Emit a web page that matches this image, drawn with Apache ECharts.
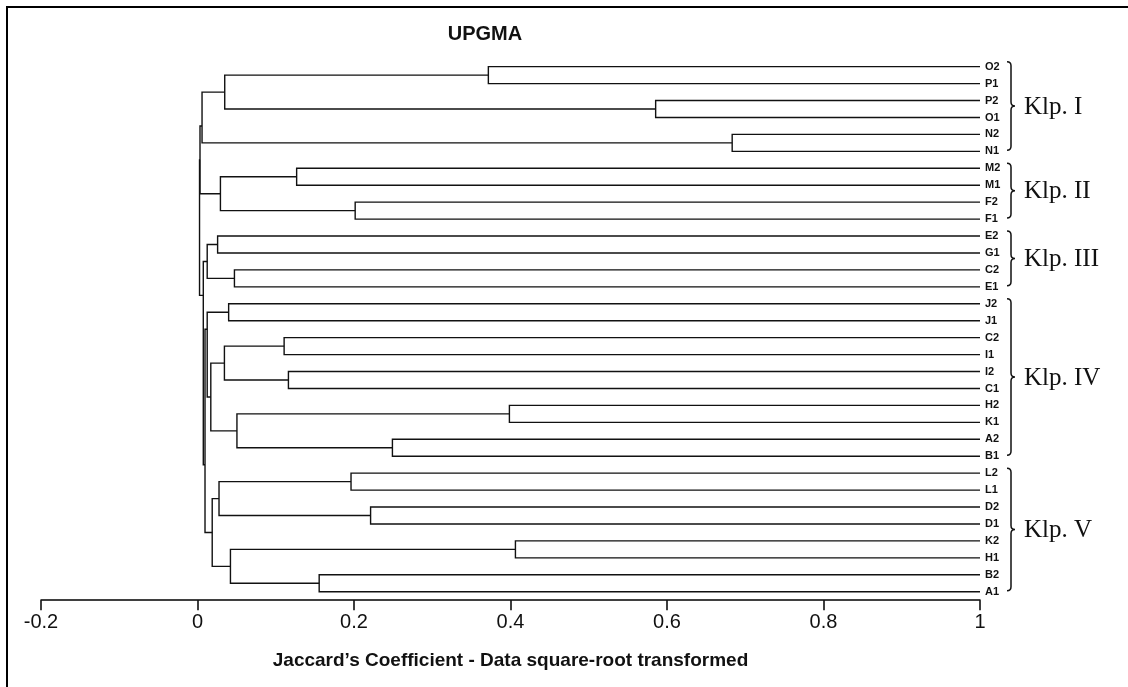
<!DOCTYPE html>
<html>
<head>
<meta charset="utf-8">
<script src="https://cdn.jsdelivr.net/npm/echarts@6/dist/echarts.min.js"></script>
<style>
  html, body { margin: 0; padding: 0; background: #fff; }
  #chart { width: 1128px; height: 687px; }
</style>
</head>
<body>
<div id="chart"></div>
<script>
// ---------- DATA ----------
const chartTitle = 'UPGMA';
const axisTitle = 'Jaccard\u2019s Coefficient - Data square-root transformed';
const tickLabels = ['-0.2', '0', '0.2', '0.4', '0.6', '0.8', '1'];

// leaves, top to bottom
const leafLabels = ['O2','P1','P2','O1','N2','N1','M2','M1','F2','F1','E2','G1','C2','E1',
  'J2','J1','C2','I1','I2','C1','H2','K1','A2','B1','L2','L1','D2','D1','K2','H1','B2','A1'];
const leafHeight = 1;

// merges: children refer to leaf index (0..31) or merge (32 + merge index)
const mergeLeft  = [0, 2, 4, 32, 35, 6, 8, 37, 10, 12, 40, 14, 16, 18, 44, 20, 22, 47, 46, 43, 24, 26, 52, 28, 30, 55, 54, 51, 42, 36, 61];
const mergeRight = [1, 3, 5, 33, 34, 7, 9, 38, 11, 13, 41, 15, 17, 19, 45, 21, 23, 48, 49, 50, 25, 27, 53, 29, 31, 56, 57, 58, 59, 39, 60];
const mergeHeight = [0.3717, 0.5855, 0.6833, 0.0348, 0.0058, 0.1267, 0.2015, 0.0293, 0.0257, 0.0472, 0.0124,
  0.0398, 0.1107, 0.1162, 0.0344, 0.3986, 0.2491, 0.0504, 0.0170, 0.0124,
  0.1962, 0.2212, 0.0275, 0.4063, 0.1555, 0.0421, 0.0188, 0.0096, 0.0074, 0.0032, 0.0026];

// cluster groups (first leaf, last leaf, label)
const groupStart = [0, 6, 10, 14, 24];
const groupEnd   = [5, 9, 13, 23, 31];
const groupNames = ['Klp. I', 'Klp. II', 'Klp. III', 'Klp. IV', 'Klp. V'];

// ---------- TREE GEOMETRY (from data) ----------
// a node links to its parent at the boundary between its two child clusters
const nLeaf = leafLabels.length;
const nodeX = [], nodeY = [], nodeLo = [], nodeHi = [];
for (let i = 0; i < nLeaf; i++) { nodeX.push(leafHeight); nodeY.push(i); nodeLo.push(i); nodeHi.push(i); }
const linkData = [];
for (let k = 0; k < mergeLeft.length; k++) {
  const a = mergeLeft[k], b = mergeRight[k], h = mergeHeight[k];
  linkData.push([h, nodeY[a], nodeY[b], nodeX[a], nodeX[b]]);
  nodeX.push(h);
  nodeY.push((nodeHi[a] + nodeLo[b]) / 2);
  nodeLo.push(nodeLo[a]);
  nodeHi.push(nodeHi[b]);
}
const groupData = groupStart.map((s, i) => [s, groupEnd[i]]);

// ---------- CHART ----------
const chart = echarts.init(document.getElementById('chart'));
const font = '"Liberation Sans", Arial, sans-serif';
chart.setOption({
  animation: false,
  backgroundColor: '#fff',
  title: {
    text: chartTitle,
    left: 480, top: 19, textAlign: 'center',
    textStyle: { fontFamily: font, fontWeight: 'bold', fontSize: 20, color: '#111' }
  },
  graphic: [{
    type: 'rect', silent: true,
    shape: { x: 7, y: 7, width: 1200, height: 800 },
    style: { fill: 'none', stroke: '#000', lineWidth: 2 }
  }],
  grid: { left: 41, right: 148, top: 58.2, bottom: 86.8, containLabel: false },
  xAxis: {
    type: 'value', min: -0.2, max: 1, interval: 0.2, position: 'bottom',
    name: axisTitle, nameLocation: 'middle', nameGap: 51,
    nameTextStyle: { fontFamily: font, fontWeight: 'bold', fontSize: 19, color: '#111' },
    axisLine: { show: true, onZero: false, lineStyle: { color: '#000', width: 1.5 } },
    axisTick: { show: true, length: 10, lineStyle: { color: '#000', width: 1.5 } },
    axisLabel: {
      margin: 12, fontFamily: font, fontSize: 20, color: '#111',
      formatter: v => tickLabels[Math.round((v + 0.2) / 0.2)]
    },
    splitLine: { show: false }
  },
  yAxis: [{
    type: 'value', min: -0.5, max: 31.5, inverse: true, show: false
  }, {
    type: 'category', data: leafLabels, inverse: true, position: 'right',
    axisLine: { show: false }, axisTick: { show: false },
    axisLabel: { margin: 5, fontFamily: font, fontWeight: 'bold', fontSize: 11, color: '#111' }
  }],
  series: [{
    type: 'custom', coordinateSystem: 'cartesian2d', xAxisIndex: 0, yAxisIndex: 0,
    clip: false, silent: true,
    data: linkData,
    renderItem: (params, api) => {
      const h = api.value(0), ya = api.value(1), yb = api.value(2), xa = api.value(3), xb = api.value(4);
      const p1 = api.coord([xa, ya]), p2 = api.coord([h, ya]), p3 = api.coord([h, yb]), p4 = api.coord([xb, yb]);
      return {
        type: 'polyline',
        shape: { points: [p1, p2, p3, p4] },
        style: { stroke: '#111', lineWidth: 1.4, fill: null }
      };
    }
  }, {
    type: 'custom', coordinateSystem: 'cartesian2d', xAxisIndex: 0, yAxisIndex: 0,
    clip: false, silent: true,
    data: groupData,
    renderItem: (params, api) => {
      const s = api.value(0), e = api.value(1);
      const name = groupNames[params.dataIndex];
      const top = api.coord([leafHeight, s]);
      const bot = api.coord([leafHeight, e]);
      const x0 = top[0] + 27;
      const y0 = top[1] - 5, y1 = bot[1] - 1;
      const ym = (y0 + y1) / 2;
      const r = 4;
      const path = 'M' + x0 + ',' + y0 +
        ' Q' + (x0 + r) + ',' + y0 + ' ' + (x0 + r) + ',' + (y0 + r) +
        ' L' + (x0 + r) + ',' + (ym - r) +
        ' Q' + (x0 + r) + ',' + ym + ' ' + (x0 + 2 * r) + ',' + ym +
        ' Q' + (x0 + r) + ',' + ym + ' ' + (x0 + r) + ',' + (ym + r) +
        ' L' + (x0 + r) + ',' + (y1 - r) +
        ' Q' + (x0 + r) + ',' + y1 + ' ' + x0 + ',' + y1;
      return {
        type: 'group',
        children: [{
          type: 'path',
          shape: { pathData: path },
          style: { stroke: '#111', lineWidth: 1.5, fill: null }
        }, {
          type: 'text',
          style: {
            text: name, x: x0 + 17, y: ym + 1,
            textAlign: 'left', textVerticalAlign: 'middle',
            font: '25px "Liberation Serif", "Times New Roman", serif', fill: '#111'
          }
        }]
      };
    }
  }]
});
</script>
</body>
</html>
